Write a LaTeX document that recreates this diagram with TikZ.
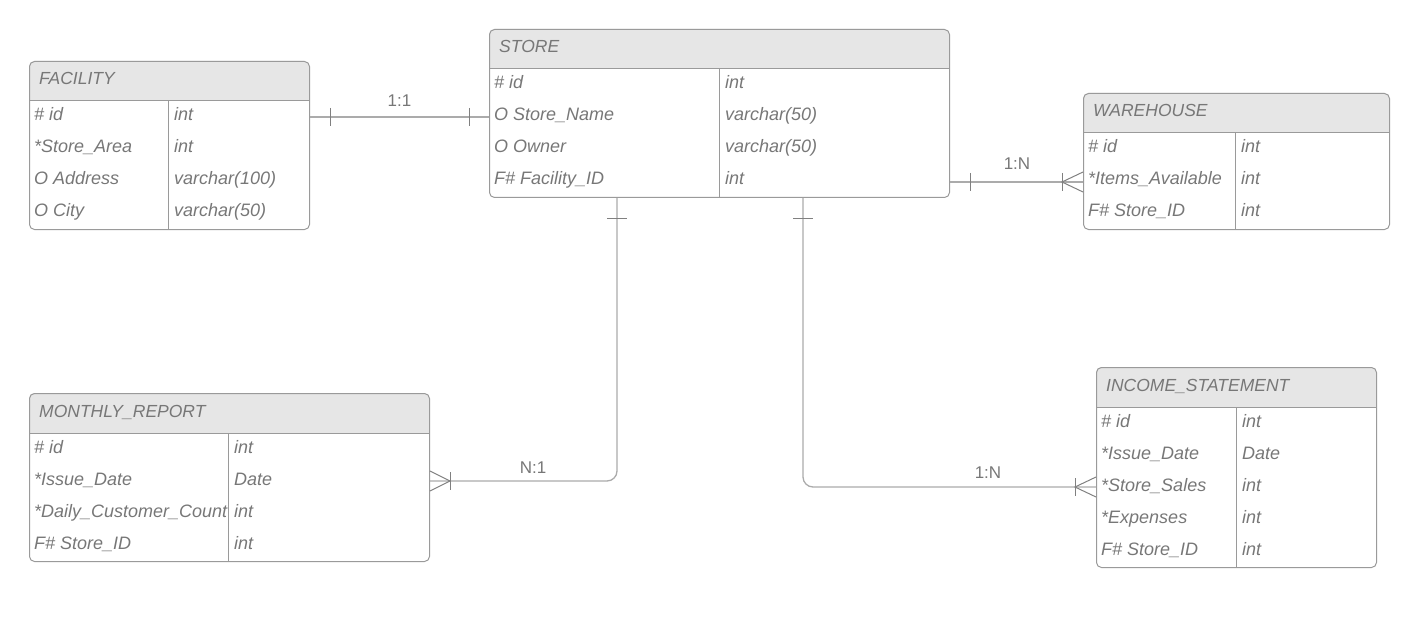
\documentclass[tikz,border=0pt]{standalone}
\usepackage{fontspec}
\setmainfont{Liberation Sans}
\usetikzlibrary{calc}
\definecolor{txt}{HTML}{777777}
\definecolor{bord}{HTML}{9A9A9A}
\definecolor{hdr}{HTML}{E6E6E6}
\definecolor{cline}{HTML}{ABABAB}
\definecolor{tick}{HTML}{808080}
\tikzset{
  tbox/.style={draw=bord, line width=1pt, rounded corners=5pt, inner sep=0pt, anchor=north west},
  ttl/.style={anchor=base west, inner sep=0pt, text=txt, font=\fontsize{17.5}{20}\selectfont\itshape},
  cell/.style={anchor=base west, inner sep=0pt, text=txt, font=\fontsize{18}{20}\selectfont\itshape},
  card/.style={anchor=base, inner sep=0pt, text=txt, font=\fontsize{17}{20}\selectfont},
  conn/.style={draw=cline, line width=1.3pt, rounded corners=10pt},
  tk/.style={draw=tick, line width=1pt},
}
% #1 name, #2 x, #3 y, #4 width, #5 divider offset, #6 rows, #7 title
\newcommand\ertable[7]{%
  \fill[hdr, rounded corners=5pt] (#2,#3) rectangle (#2+#4,#3+40);
  \fill[hdr] (#2,#3+20) rectangle (#2+#4,#3+40);
  \node[tbox, minimum width=#4pt, minimum height={40pt+32pt*#6}] (#1) at (#2,#3) {};
  \draw[draw=bord, line width=1pt] (#2,#3+40) -- (#2+#4,#3+40);
  \draw[draw=bord, line width=1pt] (#2+#5,#3+40) -- (#2+#5,#3+40+32*#6);
  \node[ttl] (#1-title) at (#2+10,#3+24) {#7};
}
% #1 name, #2 x, #3 y, #4 divider offset, #5 row index, #6 left, #7 right
\newcommand\errow[7]{%
  \node[cell] (#1-#5a) at (#2+5,#3+60+32*#5-32) {#6};
  \node[cell] (#1-#5b) at (#2+#4+6,#3+60+32*#5-32) {#7};
}
\begin{document}
\begin{tikzpicture}[x=1pt,y=-1pt]
\useasboundingbox (0,0) rectangle (1428,623);

% FACILITY
\ertable{fac}{29}{61}{280}{139}{4}{FACILITY}
\errow{fac}{29}{61}{139}{1}{\# id}{int}
\errow{fac}{29}{61}{139}{2}{*Store\_Area}{int}
\errow{fac}{29}{61}{139}{3}{O Address}{varchar(100)}
\errow{fac}{29}{61}{139}{4}{O City}{varchar(50)}

% STORE
\ertable{sto}{489}{29}{460}{230}{4}{STORE}
\errow{sto}{489}{29}{230}{1}{\# id}{int}
\errow{sto}{489}{29}{230}{2}{O Store\_Name}{varchar(50)}
\errow{sto}{489}{29}{230}{3}{O Owner}{varchar(50)}
\errow{sto}{489}{29}{230}{4}{F\# Facility\_ID}{int}

% WAREHOUSE
\ertable{war}{1083}{93}{306}{152}{3}{WAREHOUSE}
\errow{war}{1083}{93}{152}{1}{\# id}{int}
\errow{war}{1083}{93}{152}{2}{*Items\_Available}{int}
\errow{war}{1083}{93}{152}{3}{F\# Store\_ID}{int}

% MONTHLY_REPORT
\ertable{mon}{29}{393}{400}{199}{4}{MONTHLY\_REPORT}
\errow{mon}{29}{393}{199}{1}{\# id}{int}
\errow{mon}{29}{393}{199}{2}{*Issue\_Date}{Date}
\errow{mon}{29}{393}{199}{3}{*Daily\_Customer\_Count}{int}
\errow{mon}{29}{393}{199}{4}{F\# Store\_ID}{int}

% INCOME_STATEMENT
\ertable{inc}{1096}{367}{280}{140}{5}{INCOME\_STATEMENT}
\errow{inc}{1096}{367}{140}{1}{\# id}{int}
\errow{inc}{1096}{367}{140}{2}{*Issue\_Date}{Date}
\errow{inc}{1096}{367}{140}{3}{*Store\_Sales}{int}
\errow{inc}{1096}{367}{140}{4}{*Expenses}{int}
\errow{inc}{1096}{367}{140}{5}{F\# Store\_ID}{int}

% connection points
\coordinate (c1a) at ($(fac.north east)+(0,56)$);
\coordinate (c1b) at ($(sto.north west)+(0,88)$);
\coordinate (c2a) at ($(sto.north east)+(0,153)$);
\coordinate (c2b) at ($(war.north west)+(0,89)$);
\coordinate (c3a) at ($(sto.south west)+(128,0)$);
\coordinate (c3b) at ($(mon.north east)+(0,88)$);
\coordinate (c4a) at ($(sto.south west)+(314,0)$);
\coordinate (c4b) at ($(inc.north west)+(0,120)$);

% FACILITY -- STORE (1:1)
\draw[conn] (c1a) -- (c1b);
\draw[tk] ($(c1a)+(20,-9)$) -- ($(c1a)+(20,9)$);
\draw[tk] ($(c1b)+(-20,-9)$) -- ($(c1b)+(-20,9)$);
\node[card] (l1) at ($(c1a)!0.5!(c1b)+(0,-10)$) {1:1};

% STORE -- WAREHOUSE (1:N)
\draw[conn] (c2a) -- (c2b);
\draw[tk] ($(c2a)+(20,-9)$) -- ($(c2a)+(20,9)$);
\draw[tk] ($(c2b)+(-21,-9)$) -- ($(c2b)+(-21,9)$);
\draw[tk] ($(c2b)+(0,-10)$) -- ($(c2b)+(-21,0)$) -- ($(c2b)+(0,10)$);
\node[card] (l2) at ($(c2a)+(67,-12)$) {1:N};

% STORE -- MONTHLY_REPORT (N:1)
\draw[conn] (c3a) |- (c3b);
\draw[tk] ($(c3a)+(-10,20)$) -- ($(c3a)+(10,20)$);
\draw[tk] ($(c3b)+(20,-9)$) -- ($(c3b)+(20,9)$);
\draw[tk] ($(c3b)+(0,-10)$) -- ($(c3b)+(20,0)$) -- ($(c3b)+(0,10)$);
\node[card] (l3) at ($(c3b)+(103,-8)$) {N:1};

% STORE -- INCOME_STATEMENT (1:N)
\draw[conn] (c4a) |- (c4b);
\draw[tk] ($(c4a)+(-10,20)$) -- ($(c4a)+(10,20)$);
\draw[tk] ($(c4b)+(-21,-9)$) -- ($(c4b)+(-21,9)$);
\draw[tk] ($(c4b)+(0,-10)$) -- ($(c4b)+(-21,0)$) -- ($(c4b)+(0,10)$);
\node[card] (l4) at ($(c4b)+(-108,-9)$) {1:N};
\end{tikzpicture}
\end{document}
